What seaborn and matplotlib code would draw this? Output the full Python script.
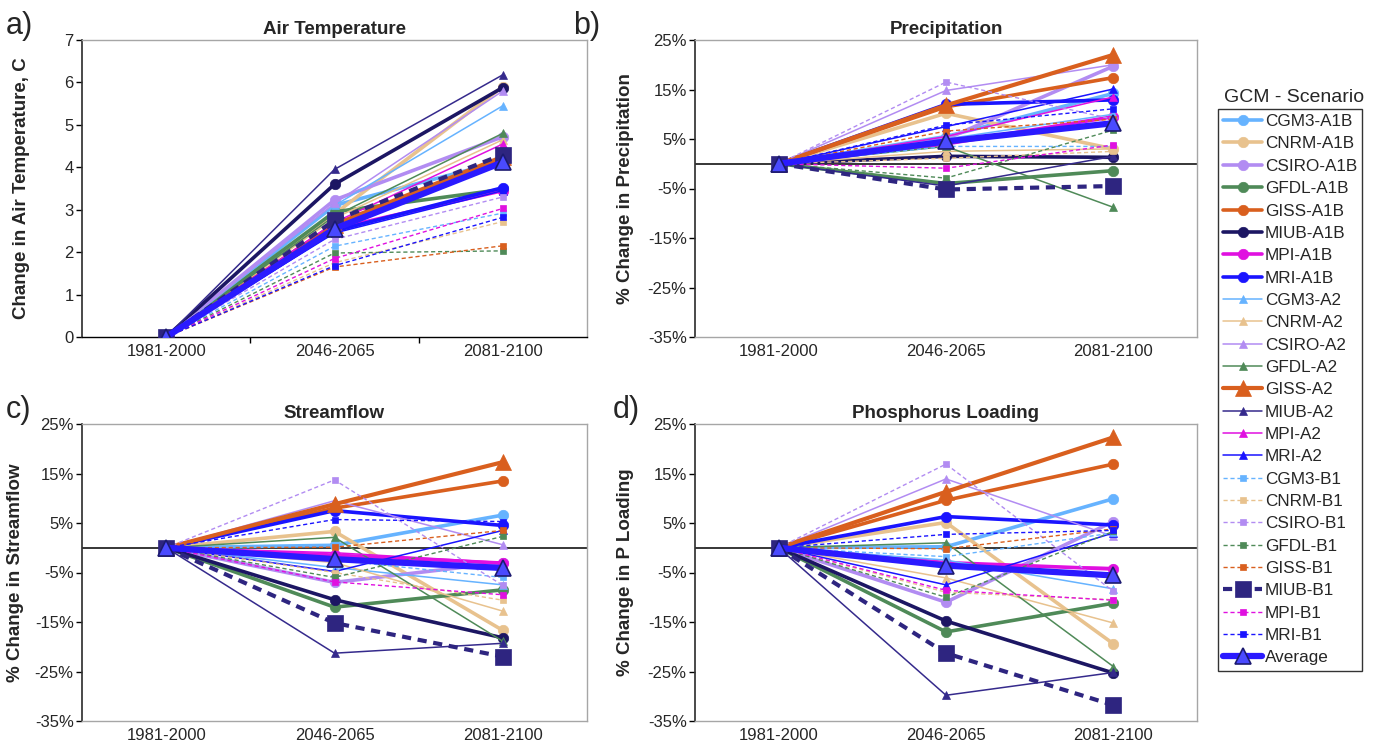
import numpy as np
import pandas as pd
import matplotlib
matplotlib.use("Agg")
import matplotlib.pyplot as plt
from matplotlib.ticker import FuncFormatter
import seaborn as sns

periods = ["1981-2000", "2046-2065", "2081-2100"]
series = ["CGM3-A1B", "CNRM-A1B", "CSIRO-A1B", "GFDL-A1B", "GISS-A1B", "MIUB-A1B", "MPI-A1B", "MRI-A1B",
          "CGM3-A2", "CNRM-A2", "CSIRO-A2", "GFDL-A2", "GISS-A2", "MIUB-A2", "MPI-A2", "MRI-A2",
          "CGM3-B1", "CNRM-B1", "CSIRO-B1", "GFDL-B1", "GISS-B1", "MIUB-B1", "MPI-B1", "MRI-B1",
          "Average"]

# values at 2046-2065 and 2081-2100 (baseline 1981-2000 = 0)
air_mid = [3.10, 2.90, 3.23, 2.95, 2.60, 3.60, 2.55, 2.50,
           3.10, 2.80, 3.15, 2.85, 2.65, 3.95, 2.70, 2.45,
           2.14, 1.75, 2.30, 1.98, 1.65, 2.75, 1.85, 1.68, 2.55]
air_end = [4.15, 5.90, 4.72, 3.48, 4.20, 5.88, 3.45, 3.52,
           5.45, 4.65, 5.80, 4.80, 4.25, 6.18, 4.55, 3.45,
           2.92, 2.72, 3.30, 2.03, 2.15, 4.30, 3.03, 2.82, 4.12]
pre_mid = [5.5, 10.2, 5.0, -4.0, 11.5, 1.5, 4.0, 12.0,
           5.0, 2.5, 14.8, 3.5, 11.8, -4.5, 5.5, 7.5,
           3.5, 1.1, 16.5, -2.9, 6.6, -5.2, -0.9, 7.8, 4.5]
pre_end = [14.2, 3.0, 19.7, -1.4, 17.4, 1.3, 9.5, 12.9,
           10.0, 3.0, 20.0, -8.8, 22.0, 1.5, 13.5, 15.1,
           3.5, 2.5, 9.0, 6.8, 9.0, -4.5, 3.8, 11.1, 8.2]
flow_mid = [0.5, 3.3, -7.0, -12.0, 8.0, -10.5, -1.5, 7.5,
            -4.0, -3.0, 9.5, 2.1, 8.8, -21.3, -1.0, -4.8,
            -2.5, -5.0, 13.7, -6.0, 0.1, -15.2, -6.9, 5.7, -2.3]
flow_end = [6.6, -16.7, -3.0, -8.5, 13.5, -18.2, -3.1, 4.5,
            -7.5, -12.8, 0.6, -18.9, 17.3, -19.3, -3.0, 3.5,
            -6.0, -10.6, -7.6, 2.3, 3.5, -22.0, -9.5, 5.3, -4.1]
phos_mid = [0.2, 5.1, -11.0, -17.0, 9.6, -14.8, -3.0, 6.3,
            -2.5, -6.1, 13.9, 1.0, 11.3, -29.8, -3.5, -7.5,
            -1.8, -9.0, 16.9, -10.0, -0.2, -21.3, -8.6, 2.7, -3.6]
phos_end = [9.9, -19.4, 5.3, -11.2, 16.9, -25.3, -4.3, 4.6,
            -8.3, -15.2, 2.3, -24.0, 22.3, -25.2, -4.0, 3.0,
            3.0, -10.5, -8.8, 3.3, 3.8, -31.8, -10.6, 3.5, -5.6]

gcm_colors = {"CGM3": "#66b3ff", "CNRM": "#e8c28e", "CSIRO": "#b28cf2", "GFDL": "#4f8a58",
              "GISS": "#d95f1e", "MIUB": "#1c1663", "MPI": "#e010e0", "MRI": "#1a14ff"}


def style_for(name):
    if name == "Average":
        return dict(color="#2a1aff", lw=4.5, marker="^", ms=12, mfc="#4a4aff", mec="#1c1a70", mew=1.2, ls="-")
    gcm, scen = name.split("-")
    c = gcm_colors[gcm]
    if scen == "A1B":
        return dict(color=c, lw=2.6, marker="o", ms=7.5, mfc=c, mec=c, ls="-")
    if scen == "A2":
        if gcm == "MIUB":
            c = "#352a8c"
        if gcm == "GISS":
            return dict(color=c, lw=3.0, marker="^", ms=12, mfc=c, mec=c, ls="-")
        return dict(color=c, lw=1.1, marker="^", ms=5.5, mfc=c, mec=c, ls="-")
    if gcm == "MIUB":
        return dict(color="#2e2580", lw=3.0, marker="s", ms=11, mfc="#2e2580", mec="#2e2580", ls=(0, (2.2, 1.6)))
    return dict(color=c, lw=1.0, marker="s", ms=5, mfc=c, mec=c, ls=(0, (3, 2)))


sns.set_theme(style="white")
plt.rcParams["font.family"] = ["Liberation Sans", "DejaVu Sans"]

W, H = 1376, 751
fig = plt.figure(figsize=(W / 100, H / 100), dpi=100)


def box(l, t, r, b):
    return [l / W, 1 - b / H, (r - l) / W, (b - t) / H]


panels = [
    ("a)", "Air Temperature", "Change in Air Temperature, C", air_mid, air_end, box(82, 40, 587, 337), (0, 7), False, -0.103, (6, 34)),
    ("b)", "Precipitation", "% Change in Precipitation", pre_mid, pre_end, box(695, 40, 1197, 337), (-35, 25), True, -0.122, (573, 34)),
    ("c)", "Streamflow", "% Change in Streamflow", flow_mid, flow_end, box(82, 424, 587, 721), (-35, 25), True, -0.115, (6, 418)),
    ("d)", "Phosphorus Loading", "% Change in P Loading", phos_mid, phos_end, box(695, 424, 1197, 721), (-35, 25), True, -0.122, (613, 418)),
]

handles = labels = None
for letter, title, ylabel, mid, end, rect, ylim, pct, ylab_x, lpos in panels:
    ax = fig.add_axes(rect)
    if pct:
        ax.axhline(0, color="black", lw=1.1, zorder=1)
    for i, name in enumerate(series):
        df = pd.DataFrame({"period": periods, "value": [0.0, mid[i], end[i]]})
        st = style_for(name)
        sns.lineplot(data=df, x="period", y="value", ax=ax, sort=False, label=name,
                     color=st["color"], linewidth=st["lw"], linestyle=st["ls"],
                     marker=st["marker"], markersize=st["ms"], markerfacecolor=st["mfc"],
                     markeredgecolor=st["mec"], markeredgewidth=st.get("mew", 0.5),
                     zorder=2 + i)
    ax.set_xlim(-0.5, 2.5)
    ax.set_ylim(*ylim)
    if pct:
        ax.set_yticks(np.arange(-35, 26, 10))
        ax.yaxis.set_major_formatter(FuncFormatter(lambda v, p: f"{v:.0f}%"))
    else:
        ax.set_yticks(np.arange(0, 8, 1))
    ax.set_xlabel("")
    ax.set_ylabel(ylabel, fontsize=13.5, fontweight="bold")
    ax.yaxis.set_label_coords(ylab_x, 0.5)
    ax.set_title(title, fontsize=13.5, fontweight="bold", pad=4)
    ax.tick_params(axis="y", which="major", length=4, width=1, color="black", direction="out",
                   labelsize=12, pad=2, left=True)
    ax.tick_params(axis="x", which="major", length=0, labelsize=12, pad=5)
    ax.set_xticks([0.5, 1.5], minor=True)
    if not pct:
        ax.tick_params(axis="x", which="minor", length=4, width=1, color="black", direction="out", bottom=True)
    for s in ["top", "right", "bottom"]:
        ax.spines[s].set_color("#a6a6a6")
        ax.spines[s].set_linewidth(1.0)
    ax.spines["left"].set_color("#333333")
    if not pct:
        ax.spines["bottom"].set_color("black")
    ax.grid(False)
    if handles is None:
        handles, labels = ax.get_legend_handles_labels()
    ax.get_legend().remove()
    fig.text(lpos[0] / W, 1 - lpos[1] / H, letter, fontsize=22, ha="left", va="baseline")

leg = fig.legend(handles, labels, loc="upper left", bbox_to_anchor=(1218 / W, 1 - 109 / H),
                 fontsize=12.3, frameon=True, fancybox=False, edgecolor="black",
                 handlelength=2.3, handletextpad=0.15, labelspacing=0.43, borderpad=0.3,
                 borderaxespad=0)
leg.get_frame().set_linewidth(1.0)
fig.text(1294 / W, 1 - 97 / H, "GCM - Scenario", fontsize=14, ha="center", va="center")

fig.savefig("out.png", dpi=100, facecolor="white")
